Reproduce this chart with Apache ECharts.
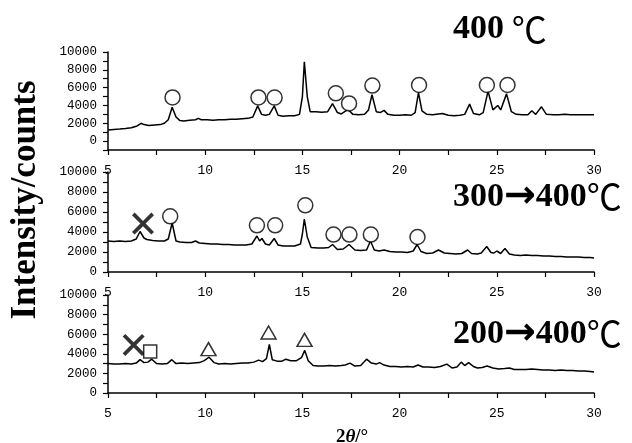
<!DOCTYPE html>
<html>
<head>
<meta charset="utf-8">
<script src="https://cdn.jsdelivr.net/npm/echarts@6/dist/echarts.min.js"></script>
<style>html,body{margin:0;padding:0;background:#fff}#c{width:632px;height:443px}</style>
</head>
<body>
<div id="c"></div>
<script>
// ---- data ----
const panelFrom = ['', '300', '200'];
const panelTo = '400';
const xTickLabels = [5, 10, 15, 20, 25, 30];
const yTickLabels = [0, 2000, 4000, 6000, 8000, 10000];

const trace400 = [[5.0,1250],[5.3,1300],[5.6,1350],[5.9,1420],[6.2,1500],[6.5,1700],[6.7,2000],[6.85,1850],[7.1,1750],[7.4,1800],[7.7,1850],[7.9,2000],[8.1,2400],[8.3,3800],[8.5,2700],[8.7,2300],[8.9,2250],[9.2,2350],[9.5,2400],[9.65,2550],[9.8,2400],[10.1,2400],[10.4,2350],[10.7,2400],[11.0,2400],[11.3,2450],[11.6,2450],[11.9,2500],[12.2,2550],[12.45,2700],[12.7,3950],[12.9,3000],[13.1,2900],[13.3,3000],[13.55,3950],[13.75,2900],[14.0,2800],[14.3,2850],[14.6,2850],[14.85,3000],[15.0,5000],[15.1,8900],[15.25,5000],[15.4,3300],[15.7,3300],[16.0,3250],[16.3,3300],[16.55,4200],[16.8,3200],[17.0,3050],[17.35,3550],[17.6,3000],[17.9,2950],[18.2,3000],[18.4,3500],[18.58,5200],[18.8,3300],[19.0,3200],[19.2,3450],[19.4,3000],[19.7,2900],[20.0,2900],[20.3,2950],[20.6,2900],[20.8,3200],[20.97,5450],[21.15,3400],[21.4,3000],[21.7,2950],[22.0,3050],[22.2,3100],[22.5,2900],[22.8,2850],[23.1,2900],[23.35,3000],[23.6,4150],[23.8,3100],[24.1,2950],[24.3,3200],[24.55,5600],[24.8,3500],[25.05,4000],[25.2,3500],[25.5,5300],[25.75,3300],[26.0,3000],[26.3,2950],[26.6,2950],[26.8,3400],[27.0,3000],[27.3,3850],[27.55,3000],[27.9,2950],[28.2,2950],[28.5,3000],[28.8,2950],[29.1,2950],[29.4,2950],[29.7,2950],[30.0,2950]];

const trace300 = [[5.0,3100],[5.3,3050],[5.6,3100],[5.9,3050],[6.2,3100],[6.45,3300],[6.65,4050],[6.85,3400],[7.0,3250],[7.3,3150],[7.6,3100],[7.9,3100],[8.1,3300],[8.3,4900],[8.5,3100],[8.7,3000],[9.0,2950],[9.3,2950],[9.5,3100],[9.7,2900],[10.0,2850],[10.3,2800],[10.6,2800],[10.9,2750],[11.2,2750],[11.5,2700],[11.8,2700],[12.1,2700],[12.4,2800],[12.66,3600],[12.8,3100],[12.92,3350],[13.1,2800],[13.3,2700],[13.55,3350],[13.75,2700],[14.0,2600],[14.3,2600],[14.6,2600],[14.9,2800],[15.0,3800],[15.1,5300],[15.25,3500],[15.45,2450],[15.8,2400],[16.1,2400],[16.35,2450],[16.55,2750],[16.8,2250],[17.1,2300],[17.4,2750],[17.7,2200],[18.0,2150],[18.3,2200],[18.5,3100],[18.7,2200],[18.95,2100],[19.2,2200],[19.5,2050],[19.8,2000],[20.1,2000],[20.4,1950],[20.7,2100],[20.9,2750],[21.1,2050],[21.4,1850],[21.7,1900],[22.0,2200],[22.3,1900],[22.6,1850],[22.9,1800],[23.2,1850],[23.5,2200],[23.7,1850],[24.0,1800],[24.2,1900],[24.48,2550],[24.7,1950],[24.85,1900],[25.0,2100],[25.2,1850],[25.42,2350],[25.65,1800],[25.9,1700],[26.2,1650],[26.5,1700],[26.8,1650],[27.1,1650],[27.4,1600],[27.7,1600],[28.0,1550],[28.3,1550],[28.6,1500],[28.9,1500],[29.2,1500],[29.5,1450],[29.8,1450],[30.0,1400]];

const trace200 = [[5.0,3000],[5.3,2950],[5.6,2950],[5.9,3000],[6.2,2950],[6.45,3050],[6.65,3400],[6.85,3100],[7.05,3150],[7.25,3450],[7.5,3000],[7.8,2950],[8.05,3000],[8.28,3400],[8.5,3000],[8.8,3050],[9.1,3000],[9.4,3050],[9.7,3100],[9.95,3300],[10.2,3650],[10.45,3100],[10.7,2950],[11.0,3000],[11.3,2950],[11.6,3000],[11.9,3050],[12.2,3050],[12.5,3150],[12.75,3350],[12.95,3200],[13.15,3500],[13.3,4950],[13.45,3400],[13.7,3250],[13.95,3250],[14.15,3450],[14.4,3300],[14.7,3300],[14.95,3600],[15.12,4350],[15.3,3300],[15.55,2800],[15.8,2750],[16.1,2750],[16.4,2800],[16.7,2750],[17.0,2800],[17.2,2850],[17.45,3050],[17.7,2750],[18.0,2800],[18.3,3450],[18.55,3050],[18.8,2950],[18.97,3100],[19.2,2850],[19.5,2700],[19.8,2700],[20.1,2650],[20.4,2700],[20.7,2650],[20.95,2850],[21.2,2650],[21.5,2650],[21.8,2600],[22.1,2700],[22.43,2950],[22.7,2550],[22.95,2650],[23.17,3150],[23.35,2800],[23.55,3100],[23.8,2700],[24.0,2550],[24.25,2600],[24.5,2750],[24.8,2550],[25.1,2450],[25.4,2500],[25.65,2550],[25.9,2400],[26.2,2400],[26.5,2400],[26.8,2450],[27.1,2400],[27.4,2350],[27.7,2350],[28.0,2300],[28.3,2350],[28.6,2300],[28.9,2300],[29.2,2250],[29.5,2250],[29.8,2200],[30.0,2150]];

const circles400 = [[8.32,4900],[12.74,4900],[13.57,4880],[15.14,10050],[16.72,5360],[17.4,4230],[18.6,6230],[21.0,6300],[24.49,6300],[25.55,6300]];
const circles300 = [[8.2,5570],[12.66,4670],[13.6,4670],[15.15,6670],[16.6,3740],[17.42,3740],[18.52,3740],[20.92,3500]];
const cross300 = [[6.8,4840]];
const cross200 = [[6.32,4910]];
const squares200 = [[7.17,4230]];
const triangles200 = [[10.17,4480],[13.26,6170],[15.11,5420]];

// ---- chart ----
const chart = echarts.init(document.getElementById('c'), null, {renderer: 'canvas'});
const LF = 'Liberation Mono';
const grids = [
  {left: 108, right: 38, top: 52, height: 98},
  {left: 108, right: 38, top: 172, height: 100},
  {left: 108, right: 38, top: 295, height: 98}
];
const yMins = [-1000, 0, 0];

function xAx(i) {
  return {
    type: 'value', gridIndex: i, min: 5, max: 30, interval: 2.5,
    axisLine: {onZero: false, lineStyle: {color: '#000', width: 1.5}},
    axisTick: {show: true, length: 5, lineStyle: {color: '#000', width: 1.2}},
    axisLabel: {margin: 14, fontFamily: LF, fontSize: 13, color: '#000',
      formatter: v => xTickLabels.indexOf(v) >= 0 ? String(v) : ''},
    splitLine: {show: false}
  };
}
function yAx(i) {
  return {
    type: 'value', gridIndex: i, min: yMins[i], max: 10000, interval: 1000,
    axisLine: {show: true, onZero: false, lineStyle: {color: '#000', width: 1.5}},
    axisTick: {show: true, length: 5, lineStyle: {color: '#000', width: 1.2}},
    axisLabel: {margin: 11, fontFamily: LF, fontSize: 12.5, color: '#000',
      formatter: v => yTickLabels.indexOf(v) >= 0 ? String(v) : ''},
    splitLine: {show: false}
  };
}
const crossPath = 'path://M0,12L12,0L50,38L88,0L100,12L62,50L100,88L88,100L50,62L12,100L0,88L38,50Z';
function lineS(i, d) {
  return {type: 'line', xAxisIndex: i, yAxisIndex: i, data: d, showSymbol: false, silent: true,
    lineStyle: {color: '#000', width: 1.5}, z: 2};
}
function markS(i, d, sym, size, filled) {
  return {type: 'scatter', xAxisIndex: i, yAxisIndex: i, data: d, symbol: sym, symbolSize: size, z: 5,
    itemStyle: filled ? {color: '#000'} : {color: '#fff', borderColor: '#000', borderWidth: 1.5}};
}

const titleFont = 'bold 34px "Liberation Serif", "DejaVu Serif"';
const titleBase = [48, 214, 351];
const titleGraphics = panelFrom.map((f, i) => ({
  type: 'text', left: 453, top: titleBase[i] - 36, z: 10,
  style: {
    text: (f ? '{a|' + f + '}{c|\u2192}' : '') + '{a|' + panelTo + '}{b|' + (f ? '' : ' ') + '\u2103}',
    rich: {
      a: {font: titleFont, fill: '#000'},
      c: {font: 'bold 38px "DejaVu Sans"', fill: '#000'},
      b: {fontFamily: '"Noto Sans CJK JP"', fontSize: 35, fill: '#000'}
    }
  }
}));

chart.setOption({
  animation: false,
  backgroundColor: '#fff',
  grid: grids,
  xAxis: [xAx(0), xAx(1), xAx(2)],
  yAxis: [yAx(0), yAx(1), yAx(2)],
  series: [
    lineS(0, trace400), lineS(1, trace300), lineS(2, trace200),
    markS(0, circles400, 'circle', 15, false),
    markS(1, circles300, 'circle', 15, false),
    markS(1, cross300, crossPath, 22, true),
    markS(2, cross200, crossPath, 22, true),
    markS(2, squares200, 'rect', 13, false),
    markS(2, triangles200, 'triangle', [15, 13], false)
  ],
  graphic: titleGraphics.concat([
    {type: 'text', x: 26, y: 200, rotation: Math.PI / 2, z: 10,
      style: {text: 'Intensity/counts', font: 'bold 35px "Liberation Serif"', fill: '#000',
        textAlign: 'center', textVerticalAlign: 'middle'}},
    {type: 'text', x: 352, y: 437, z: 10,
      style: {text: '{a|2}{b|\u03b8}{a|/\u00b0}', textAlign: 'center', textVerticalAlign: 'middle',
        rich: {a: {font: 'bold 19px "Liberation Serif"', fill: '#000'},
               b: {font: 'italic bold 19px "Liberation Serif"', fill: '#000'}}}}
  ])
});
</script>
</body>
</html>
